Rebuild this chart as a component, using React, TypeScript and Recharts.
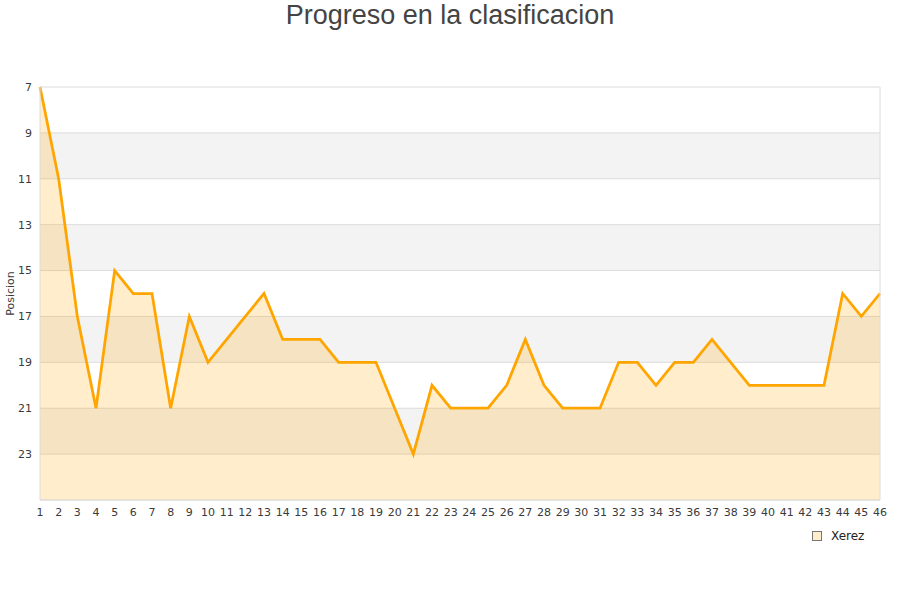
import React from "react";
import {
  AreaChart,
  Area,
  XAxis,
  YAxis,
  CartesianGrid,
  Legend,
  ReferenceLine,
} from "recharts";

// jornadas 1..46 and league position of Xerez
const jornadas = [
  "1", "2", "3", "4", "5", "6", "7", "8", "9", "10",
  "11", "12", "13", "14", "15", "16", "17", "18", "19", "20",
  "21", "22", "23", "24", "25", "26", "27", "28", "29", "30",
  "31", "32", "33", "34", "35", "36", "37", "38", "39", "40",
  "41", "42", "43", "44", "45", "46",
];

const xerez = [
  7, 11, 17, 21, 15, 16, 16, 21, 17, 19,
  18, 17, 16, 18, 18, 18, 19, 19, 19, 21,
  23, 20, 21, 21, 21, 20, 18, 20, 21, 21,
  21, 19, 19, 20, 19, 19, 18, 19, 20, 20,
  20, 20, 20, 16, 17, 16,
];

const yTicks = [7, 9, 11, 13, 15, 17, 19, 21, 23];
const yDomain = [7, 25];

const data = jornadas.map((j, i) => ({ jornada: j, Xerez: xerez[i] }));

const ORANGE = "#ffa500";
const tickStyle = { fontSize: 11, fill: "#3a3a3a", fontFamily: "DejaVu Sans" };

function YLabel({ viewBox }: any) {
  const cx = 10;
  const cy = viewBox.y + viewBox.height / 2;
  return (
    <text
      x={cx}
      y={cy}
      transform={`rotate(-90, ${cx}, ${cy})`}
      textAnchor="middle"
      dominantBaseline="central"
      fontSize={11}
      fill="#3a3a3a"
      fontFamily="DejaVu Sans"
    >
      Posicion
    </text>
  );
}

function LegendBox() {
  return (
    <div style={{ display: "flex", alignItems: "center", fontFamily: "DejaVu Sans", fontSize: 12, color: "#222" }}>
      <span
        style={{
          display: "inline-block",
          width: 8,
          height: 8,
          background: "#ffedcc",
          border: "1px solid #777",
          marginRight: 9,
        }}
      />
      Xerez
    </div>
  );
}

export default function App() {
  return (
    <div style={{ position: "absolute", left: 0, top: 0, width: 900, height: 600, background: "#fff" }}>
      <div
        style={{
          position: "absolute",
          left: 0,
          top: 0,
          width: 900,
          height: 30,
          lineHeight: "30px",
          textAlign: "center",
          fontFamily: "Liberation Sans",
          fontSize: 27,
          color: "#444",
        }}
      >
        Progreso en la clasificacion
      </div>
      <AreaChart width={900} height={600} data={data} margin={{ top: 87, right: 20, left: 0, bottom: 60 }}>
        <CartesianGrid
          vertical={false}
          stroke="#dcdcdc"
          horizontalFill={["#ffffff", "#f3f3f3"]}
          fillOpacity={1}
        />
        <XAxis
          dataKey="jornada"
          interval={0}
          height={20}
          tickLine={false}
          axisLine={{ stroke: "#dcdcdc" }}
          tick={tickStyle}
        />
        <YAxis
          reversed
          type="number"
          domain={yDomain}
          ticks={yTicks}
          interval={0}
          width={40}
          tickLine={false}
          axisLine={{ stroke: "#dcdcdc" }}
          tick={tickStyle}
          label={<YLabel />}
        />
        <ReferenceLine x="46" stroke="#dcdcdc" />
        <Legend
          content={<LegendBox />}
          verticalAlign="bottom"
          wrapperStyle={{ top: 529, left: 812, width: 80, height: 20 }}
        />
        <Area
          type="linear"
          dataKey="Xerez"
          baseValue="dataMax"
          stroke={ORANGE}
          strokeWidth={2.75}
          fill={ORANGE}
          fillOpacity={0.2}
          dot={false}
          activeDot={false}
          isAnimationActive={false}
        />
      </AreaChart>
    </div>
  );
}
